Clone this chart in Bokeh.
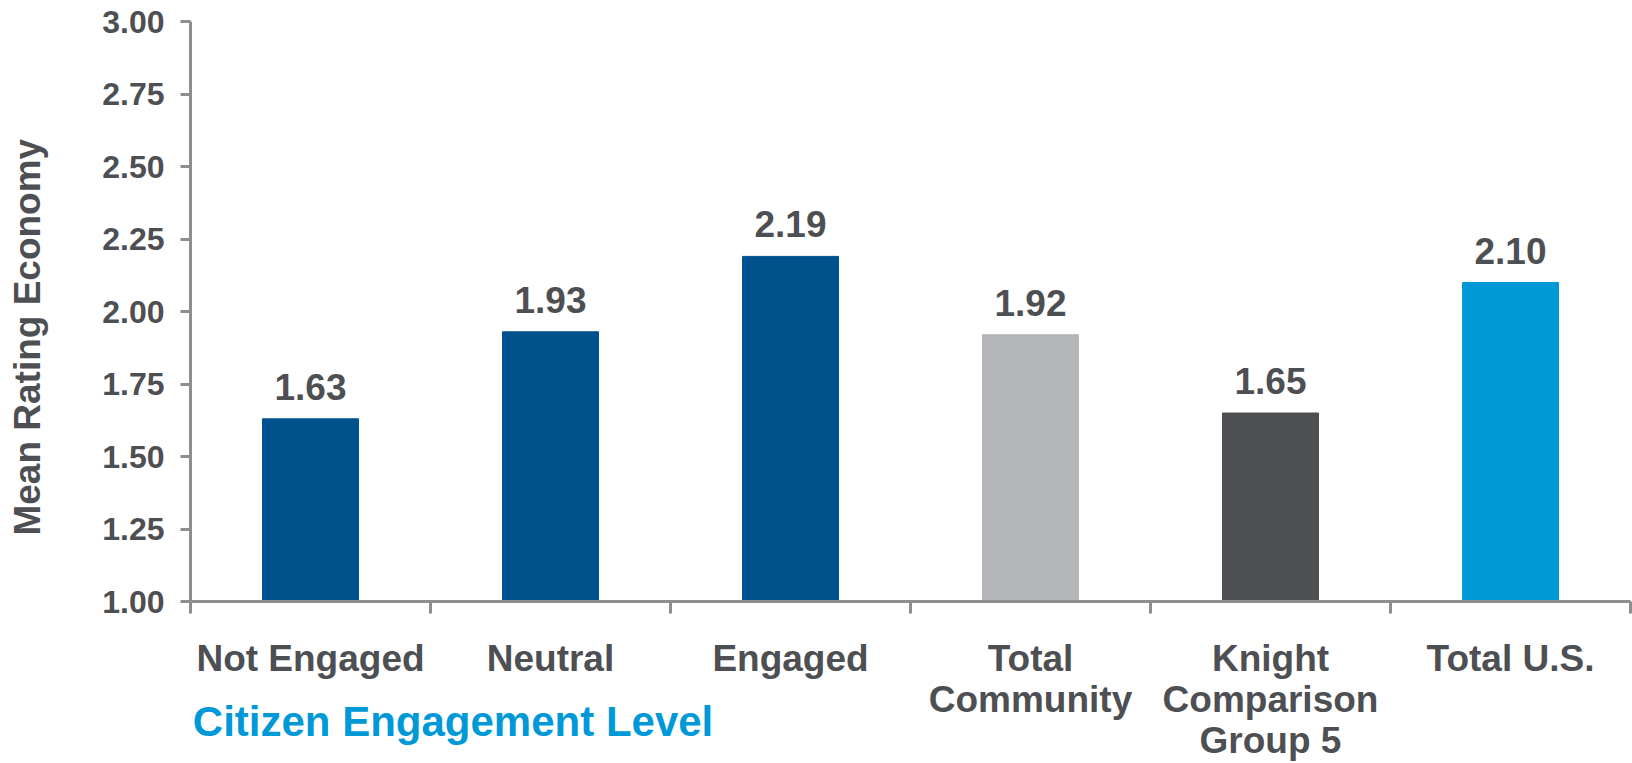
from bokeh.plotting import figure
from bokeh.models import (ColumnDataSource, Range1d, FixedTicker, PrintfTickFormatter,
                          LabelSet, LinearAxis)
from bokeh.core.properties import value
from bokeh.embed import file_html
from bokeh.resources import INLINE

categories = ["Not Engaged", "Neutral", "Engaged", "Total\nCommunity", "Knight\nComparison\nGroup 5", "Total U.S."]
values = [1.63, 1.93, 2.19, 1.92, 1.65, 2.10]
value_labels = ["1.63", "1.93", "2.19", "1.92", "1.65", "2.10"]
bar_colors = ["#00528F", "#00528F", "#00528F", "#B5B6B9", "#4D4F53", "#0099D8"]
y_ticks = [1.00, 1.25, 1.50, 1.75, 2.00, 2.25, 2.50, 2.75, 3.00]
x_title = "Citizen Engagement  Level"
y_title = "Mean Rating Economy"

TEXT = "#4D4F53"
AXIS = "#8E8E8E"
BLUE = "#0099D8"
FONT = "Liberation Sans"

n = len(categories)
centers = [i + 0.5 for i in range(n)]
boundaries = list(range(n + 1))

src = ColumnDataSource(dict(x=centers, top=values, lab=value_labels, color=bar_colors))

p = figure(width=1632, height=763, output_backend="svg", toolbar_location=None,
           x_range=Range1d(0, n), y_range=Range1d(1.0, 3.0),
           min_border_left=190, min_border_right=2, min_border_top=21, min_border_bottom=162)
p.outline_line_color = None
p.grid.grid_line_color = None

p.vbar(x="x", top="top", bottom=1.0, width=0.4, color="color", source=src)

# y axis
ya = p.yaxis[0]
ya.ticker = FixedTicker(ticks=y_ticks)
ya.formatter = PrintfTickFormatter(format="%.2f")
ya.axis_line_color = AXIS
ya.axis_line_width = 3
ya.major_tick_line_color = AXIS
ya.major_tick_line_width = 3
ya.major_tick_out = 10
ya.major_tick_in = 0
ya.minor_tick_line_color = None
ya.major_label_text_font = FONT
ya.major_label_text_font_style = "bold"
ya.major_label_text_font_size = "32px"
ya.major_label_text_color = TEXT
ya.major_label_standoff = 16
ya.axis_label = y_title + "\u00a0" * 5
ya.axis_label_text_font = FONT
ya.axis_label_text_font_style = "bold"
ya.axis_label_text_font_size = "37px"
ya.axis_label_text_color = TEXT
ya.axis_label_standoff = 51

# x axis: tick marks at the category boundaries
bx = p.xaxis[0]
bx.ticker = FixedTicker(ticks=boundaries)
bx.major_label_overrides = {b: "" for b in boundaries}
bx.major_label_text_font_size = "0px"
bx.major_label_standoff = 0
bx.axis_line_color = AXIS
bx.axis_line_width = 3
bx.major_tick_line_color = AXIS
bx.major_tick_line_width = 3
bx.major_tick_out = 12
bx.major_tick_in = 0
bx.minor_tick_line_color = None

# category labels at the bar centers, with the blue axis title
cx = LinearAxis(ticker=FixedTicker(ticks=centers))
cx.major_label_overrides = {c: cat for c, cat in zip(centers, categories)}
cx.axis_line_color = None
cx.major_tick_line_color = None
cx.minor_tick_line_color = None
cx.major_tick_out = 0
cx.major_tick_in = 0
cx.major_label_standoff = 24
cx.major_label_text_font = FONT
cx.major_label_text_font_style = "bold"
cx.major_label_text_font_size = "37px"
cx.major_label_text_color = TEXT
cx.major_label_text_line_height = 1.0
cx.axis_label = "\u00a0" * 46 + x_title
cx.axis_label_align = "start"
cx.axis_label_standoff = -66
cx.axis_label_text_font = FONT
cx.axis_label_text_font_style = "bold"
cx.axis_label_text_font_size = "42px"
cx.axis_label_text_color = BLUE
p.add_layout(cx, "below")

# value labels
p.add_layout(LabelSet(x="x", y="top", text="lab", source=src, y_offset=19,
                      text_align="center", text_baseline="alphabetic",
                      text_font=value(FONT), text_font_style="bold", text_font_size="37px",
                      text_color=TEXT))

open("out.html", "w").write(file_html(p, INLINE))
